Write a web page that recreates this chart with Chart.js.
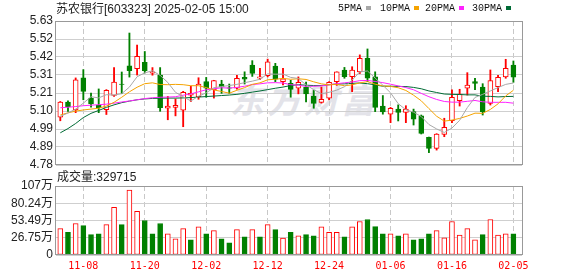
<!DOCTYPE html>
<html><head><meta charset="utf-8">
<script src="https://cdn.jsdelivr.net/npm/chart.js@4.4.1/dist/chart.umd.min.js"></script>
<style>
html,body{margin:0;padding:0;background:#fff;}
#wrap{position:relative;width:578px;height:276px;overflow:hidden;font-family:"Liberation Sans","Noto Sans CJK SC",sans-serif;}
canvas{position:absolute;left:0;top:0;}
.t{position:absolute;white-space:nowrap;font-size:12px;color:#222;line-height:14px;}
.lg{position:absolute;top:3px;white-space:nowrap;font:10px "Liberation Mono",monospace;color:#111;line-height:12px;}
.sq{display:inline-block;width:5px;height:4px;margin-left:4px;vertical-align:1px;}
#wm{position:absolute;left:230px;top:74px;font:bold italic 34px "Noto Sans CJK SC";color:#e3e3e9;letter-spacing:3px;white-space:nowrap;}
</style></head>
<body><div id="wrap">
<div id="wm">东方财富</div>
<canvas id="pc" width="578" height="276"></canvas>
<canvas id="vc" width="578" height="276"></canvas>
<div class="t" style="left:56px;top:2px;">苏农银行[603323] 2025-02-05 15:00</div>
<div class="lg" style="left:338px;">5PMA<span class="sq" style="background:#a8a8a8"></span></div>
<div class="lg" style="left:380px;">10PMA<span class="sq" style="background:#f5a300"></span></div>
<div class="lg" style="left:425px;">20PMA<span class="sq" style="background:#ff22ff"></span></div>
<div class="lg" style="left:472px;">30PMA<span class="sq" style="background:#006b35"></span></div>
<div class="t" style="left:57px;top:170px;">成交量:329715</div>
</div>
<script>
const dates = ['11-05','11-06','11-07','11-08','11-11','11-12','11-13','11-14','11-15','11-18','11-19','11-20','11-21','11-22','11-25','11-26','11-27','11-28','11-29','12-02','12-03','12-04','12-05','12-06','12-09','12-10','12-11','12-12','12-13','12-16','12-17','12-18','12-19','12-20','12-23','12-24','12-25','12-26','12-27','12-30','12-31','01-02','01-03','01-06','01-07','01-08','01-09','01-10','01-13','01-14','01-15','01-16','01-17','01-20','01-21','01-22','01-23','01-24','01-27','02-05'];
const tickDates = ['11-08','11-20','12-02','12-12','12-24','01-06','01-16','02-05'];
const opens = [5.062,5.152,5.105,5.294,5.175,5.134,5.106,5.190,5.258,5.366,5.348,5.386,5.322,5.311,5.115,5.120,5.103,5.192,5.183,5.272,5.223,5.258,5.235,5.233,5.297,5.370,5.292,5.307,5.364,5.272,5.262,5.233,5.238,5.187,5.150,5.174,5.272,5.341,5.301,5.330,5.410,5.300,5.128,5.080,5.110,5.090,5.095,5.070,4.943,4.878,4.961,5.041,5.160,5.233,5.272,5.240,5.144,5.242,5.300,5.370];
const highs = [5.155,5.159,5.294,5.343,5.205,5.229,5.225,5.355,5.329,5.559,5.488,5.450,5.355,5.355,5.185,5.170,5.215,5.245,5.295,5.297,5.280,5.280,5.258,5.310,5.330,5.396,5.350,5.405,5.380,5.350,5.280,5.300,5.270,5.220,5.240,5.272,5.330,5.356,5.360,5.430,5.465,5.330,5.190,5.120,5.135,5.130,5.110,5.075,4.945,4.965,5.056,5.223,5.227,5.325,5.292,5.260,5.341,5.310,5.404,5.394];
const lows = [5.041,5.097,5.089,5.165,5.121,5.089,5.078,5.185,5.202,5.299,5.311,5.323,5.310,5.097,5.047,5.070,5.006,5.155,5.168,5.180,5.175,5.203,5.203,5.228,5.258,5.303,5.283,5.300,5.272,5.252,5.180,5.200,5.153,5.115,5.145,5.165,5.250,5.292,5.213,5.320,5.272,5.095,5.080,5.030,5.040,5.030,5.016,4.963,4.853,4.868,4.947,5.030,5.128,5.193,5.225,5.075,5.134,5.213,5.292,5.268];
const closes = [5.152,5.124,5.283,5.215,5.140,5.118,5.221,5.270,5.255,5.337,5.422,5.337,5.330,5.118,5.128,5.132,5.209,5.203,5.258,5.233,5.278,5.242,5.233,5.292,5.286,5.321,5.300,5.389,5.286,5.288,5.226,5.268,5.199,5.144,5.167,5.268,5.330,5.301,5.341,5.410,5.292,5.120,5.094,5.115,5.090,5.110,5.050,4.967,4.878,4.962,5.003,5.180,5.198,5.252,5.262,5.095,5.278,5.297,5.350,5.298];
const ma5 = [5.067,5.087,5.110,5.145,5.183,5.176,5.195,5.193,5.201,5.240,5.301,5.324,5.336,5.309,5.267,5.209,5.183,5.158,5.186,5.206,5.236,5.243,5.249,5.256,5.266,5.275,5.286,5.318,5.316,5.317,5.297,5.291,5.253,5.225,5.201,5.209,5.222,5.242,5.281,5.330,5.335,5.293,5.251,5.206,5.142,5.106,5.092,5.066,5.019,4.993,4.972,4.998,5.044,5.119,5.179,5.197,5.217,5.237,5.256,5.264];
const ma10 = [5.075,5.088,5.098,5.105,5.110,5.115,5.128,5.150,5.180,5.212,5.239,5.260,5.265,5.255,5.254,5.256,5.254,5.248,5.248,5.237,5.223,5.214,5.204,5.221,5.237,5.256,5.265,5.283,5.286,5.291,5.286,5.289,5.285,5.271,5.259,5.253,5.256,5.248,5.253,5.265,5.272,5.257,5.247,5.244,5.236,5.220,5.192,5.159,5.113,5.068,5.039,5.045,5.055,5.069,5.086,5.085,5.108,5.141,5.188,5.221];
const ma20 = [5.118,5.121,5.125,5.130,5.133,5.136,5.139,5.145,5.152,5.158,5.165,5.172,5.177,5.180,5.181,5.183,5.192,5.200,5.212,5.224,5.230,5.236,5.234,5.238,5.245,5.255,5.259,5.265,5.266,5.264,5.254,5.251,5.244,5.245,5.247,5.254,5.260,5.265,5.270,5.278,5.279,5.273,5.266,5.257,5.247,5.237,5.224,5.203,5.183,5.167,5.155,5.151,5.151,5.156,5.161,5.153,5.150,5.150,5.150,5.145];
const ma30 = [4.970,4.995,5.025,5.060,5.085,5.102,5.120,5.135,5.148,5.157,5.165,5.170,5.173,5.174,5.175,5.175,5.176,5.178,5.181,5.184,5.187,5.190,5.193,5.197,5.203,5.210,5.217,5.225,5.233,5.240,5.249,5.254,5.251,5.249,5.249,5.254,5.258,5.259,5.262,5.264,5.260,5.253,5.245,5.245,5.244,5.243,5.238,5.230,5.217,5.208,5.199,5.197,5.196,5.194,5.194,5.186,5.185,5.182,5.184,5.185];
const volumes = [409000,351000,488000,456000,315000,330000,472000,740000,472000,1007000,677000,535000,330000,488000,330000,252000,409000,236000,438000,330000,378000,252000,189000,393000,283000,393000,283000,472000,393000,262000,351000,299000,315000,299000,436000,351000,351000,283000,436000,519000,551000,441000,330000,330000,299000,330000,236000,252000,330000,378000,268000,519000,310000,409000,236000,315000,551000,310000,330000,329715];
const priceMin = 4.78, priceMax = 5.63;
const priceTickLabels = ['4.78','4.89','4.99','5.10','5.21','5.31','5.42','5.52','5.63'];
const volMax = 1070000;
const volTickLabels = ['0','26.75万','53.49万','80.24万','107万'];

const RED = '#ff0000', GRN = '#008000';
const maColors = ['#a8a8a8', '#f5a300', '#ff22ff', '#006b35'];
const tickIdx = tickDates.map(d => dates.indexOf(d));
const up = closes.map((c, i) => c >= opens[i]);
const volUp = closes.map((c, i) => i === 0 ? c >= opens[0] : c >= closes[i - 1]);
const xMin = -0.56, xMax = 60.12;
const FONT = '"Liberation Sans","Noto Sans CJK SC",sans-serif';

const frame = {
  id: 'frame',
  afterDraw(c) {
    const a = c.chartArea, ctx = c.ctx;
    ctx.save();
    ctx.strokeStyle = '#999';
    ctx.lineWidth = 1;
    ctx.strokeRect(a.left - 0.5, a.top + 0.5, a.right - a.left + 1, a.bottom - a.top - 1);
    ctx.restore();
  }
};

function xScale(showLabels) {
  return {
    type: 'linear', min: xMin, max: xMax, offset: false,
    grid: { color: '#c8c8c8', offset: false, drawTicks: false, lineWidth: 1 },
    border: { display: false, dash: [5, 3] },
    ticks: {
      display: showLabels, autoSkip: false, maxRotation: 0, padding: 5,
      color: RED, font: { family: '"DejaVu Sans Mono",monospace', size: 10 },
      callback: v => dates[v]
    },
    afterBuildTicks: s => { s.ticks = tickIdx.map(v => ({ value: v })); },
    afterFit: s => { s.height = showLabels ? 21 : 0; }
  };
}
function yScale(min, max, labels) {
  return {
    min: min, max: max,
    grid: { color: '#cfcfcf', drawTicks: false },
    border: { display: false },
    ticks: { autoSkip: false, padding: 3, color: '#222', font: { family: FONT, size: 12 }, callback: (v, i) => labels[i] },
    afterBuildTicks: s => { s.ticks = labels.map((l, k) => ({ value: min + k * (max - min) / (labels.length - 1) })); },
    afterFit: s => { s.width = 56; }
  };
}
const pts = arr => arr.map((v, i) => ({ x: i, y: v }));

const maSets = [ma5, ma10, ma20, ma30].map((arr, k) => ({
  type: 'line', label: ['5PMA', '10PMA', '20PMA', '30PMA'][k], data: pts(arr),
  borderColor: maColors[k], borderWidth: 1, pointRadius: 0, tension: 0, order: 0
}));

new Chart(document.getElementById('pc'), {
  type: 'bar',
  data: {
    datasets: [
      ...maSets,
      { type: 'bar', label: 'wick', data: lows.map((l, i) => ({ x: i, y: [l, highs[i]] })),
        backgroundColor: up.map(u => u ? RED : GRN), barThickness: 1.2, grouped: false, order: 2 },
      { type: 'bar', label: 'body', data: opens.map((o, i) => ({ x: i, y: [o, closes[i]] })),
        backgroundColor: up.map(u => u ? '#ffffff' : GRN), borderColor: up.map(u => u ? RED : GRN),
        borderWidth: 1, borderSkipped: false, barThickness: 5, grouped: false, order: 1 }
    ]
  },
  options: {
    responsive: false, animation: false, events: [],
    layout: { padding: { left: 0, top: 21, right: 56, bottom: 111 } },
    plugins: { legend: { display: false }, tooltip: { enabled: false } },
    scales: { x: xScale(false), y: yScale(priceMin, priceMax, priceTickLabels) }
  },
  plugins: [frame]
});

new Chart(document.getElementById('vc'), {
  type: 'bar',
  data: {
    datasets: [
      { label: '成交量', data: volumes.map((v, i) => ({ x: i, y: v })),
        backgroundColor: volUp.map(u => u ? '#ffffff' : GRN), borderColor: volUp.map(u => u ? RED : GRN),
        borderWidth: 1, borderSkipped: false, barThickness: 5, grouped: false }
    ]
  },
  options: {
    responsive: false, animation: false, events: [],
    layout: { padding: { left: 0, top: 186, right: 56, bottom: 0 } },
    plugins: { legend: { display: false }, tooltip: { enabled: false } },
    scales: { x: xScale(true), y: yScale(0, volMax, volTickLabels) }
  },
  plugins: [frame]
});
</script>
</body></html>
